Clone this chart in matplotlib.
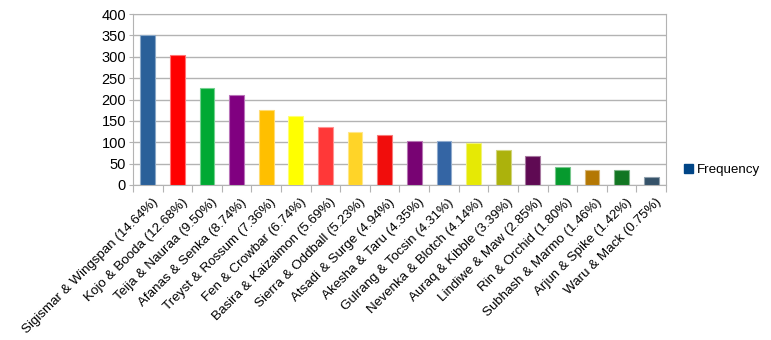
import numpy as np
import matplotlib.pyplot as plt
from matplotlib.patches import Patch
import matplotlib.colors as mcolors
import matplotlib.transforms as mtransforms

plt.rcParams['font.family'] = ['Liberation Sans', 'DejaVu Sans']

# Data
names = ['Sigismar & Wingspan', 'Kojo & Booda', 'Teija & Nauraa', 'Afanas & Senka',
         'Treyst & Rossum', 'Fen & Crowbar', 'Basira & Kaizaimon', 'Sierra & Oddball',
         'Atsadi & Surge', 'Akesha & Taru', 'Gulrang & Tocsin', 'Nevenka & Blotch',
         'Auraq & Kibble', 'Lindiwe & Maw', 'Rin & Orchid', 'Subhash & Marmo',
         'Arjun & Spike', 'Waru & Mack']
percents = ['14.64%', '12.68%', '9.50%', '8.74%', '7.36%', '6.74%', '5.69%', '5.23%',
            '4.94%', '4.35%', '4.31%', '4.14%', '3.39%', '2.85%', '1.80%', '1.46%',
            '1.42%', '0.75%']
freq = [351, 304, 228, 210, 176, 162, 136, 125, 118, 104, 103, 99, 81, 68, 43, 35, 34, 18]
colors = ['#2a6099', '#ff0000', '#00a933', '#800080', '#ffbf00', '#ffff00', '#ff3838',
          '#ffd428', '#f10d0c', '#780373', '#3465a4', '#e6e905', '#acb20c', '#5f0a53',
          '#069a2e', '#b47804', '#127622', '#355269']

labels = [f'{n} ({p})' for n, p in zip(names, percents)]
x = np.arange(len(freq))

fig = plt.figure(figsize=(7.71, 3.40), dpi=100)
ax = fig.add_axes([0.1725, 0.4559, 0.6913, 0.5029])

# light outline like the original
edges = [mcolors.to_rgba(c) for c in colors]
edges = [(r + (1 - r) * 0.45, g + (1 - g) * 0.45, b + (1 - b) * 0.45, 1) for r, g, b, a in edges]
ax.bar(x, freq, width=0.5, color=colors, edgecolor=edges, linewidth=0.8, zorder=3)

ax.set_xlim(-0.5, len(freq) - 0.5)
ax.set_ylim(0, 400)
ax.set_yticks(np.arange(0, 401, 50))
ax.yaxis.grid(True, color='#b3b3b3', linewidth=1, zorder=0)
for s in ax.spines.values():
    s.set_color('#b3b3b3')

ax.set_xticks(np.append(x - 0.5, len(freq) - 0.5))
ax.set_xticklabels([])
ax.set_xticks(x, minor=True)
ax.set_xticklabels(labels, minor=True, rotation=45, ha='right', va='top',
                   rotation_mode='anchor', fontsize=9.6)
ax.tick_params(axis='x', which='minor', length=0, pad=8)
ax.tick_params(axis='x', which='major', length=5, color='#b3b3b3')
ax.tick_params(axis='y', length=3, color='#b3b3b3', labelsize=10.5, pad=2)

shift = mtransforms.ScaledTranslation(4 / 100, 0, fig.dpi_scale_trans)
for lbl in ax.get_xticklabels(minor=True):
    lbl.set_transform(lbl.get_transform() + shift)

fig.legend(handles=[Patch(color='#004586', label='Frequency')], loc='center left',
           bbox_to_anchor=(0.871, 0.50), frameon=False, fontsize=9.6,
           handlelength=0.7, handleheight=0.7, handletextpad=0.3)

fig.savefig('out.png', dpi=100)
